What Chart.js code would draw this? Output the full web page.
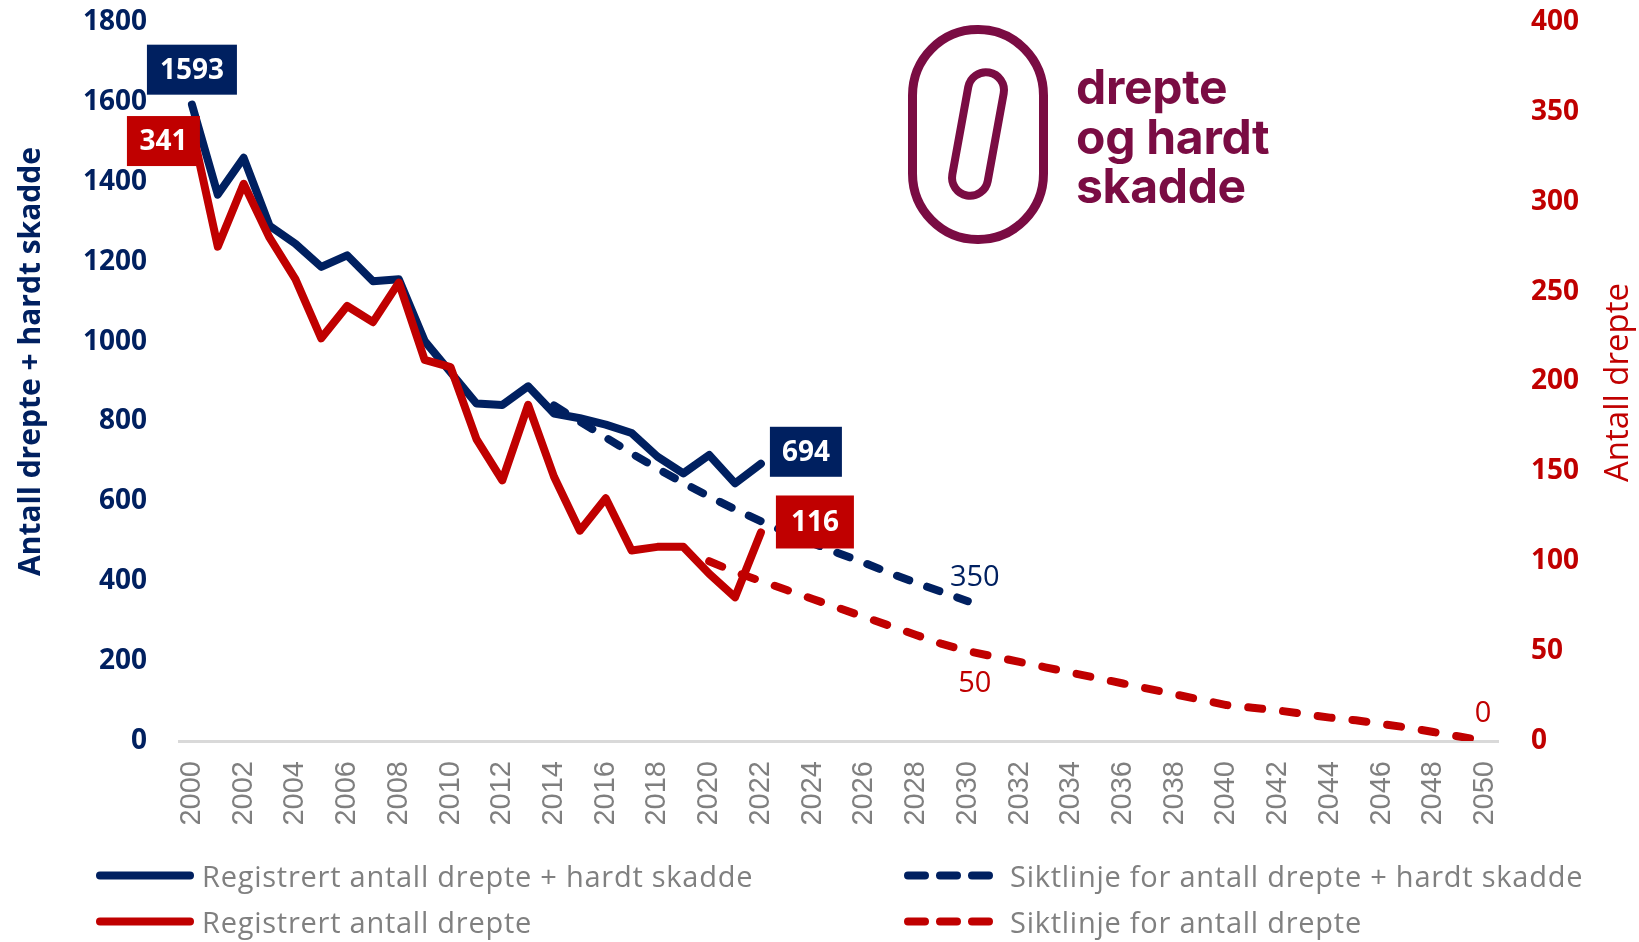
<!DOCTYPE html>
<html>
<head>
<meta charset="utf-8">
<script src="https://cdn.jsdelivr.net/npm/chart.js@4/dist/chart.umd.min.js"></script>
<style>
  html, body { margin: 0; padding: 0; background: #ffffff; }
  #wrap { position: relative; width: 1639px; height: 942px; overflow: hidden; background: #fff; }
  #chart { position: absolute; left: 0; top: 0; }
  #logo { position: absolute; left: 0; top: 0; pointer-events: none; }
  .logo-text { position: absolute; left: 1076px; top: 62px; font-family: Inter, "Open Sans", sans-serif; font-weight: 700;
               font-size: 48px; line-height: 49.5px; color: #7a0c43; letter-spacing: -0.3px; white-space: nowrap; }
  .leg { position: absolute; display: flex; align-items: center; transform: translateY(-50%); white-space: nowrap; }
  .leg span { font-family: "Open Sans", sans-serif; font-size: 29px; color: #808080; letter-spacing: 0.75px; }
  .leg svg { display: block; flex: none; }
</style>
</head>
<body>
<div id="wrap">
  <canvas id="chart" width="1639" height="942"></canvas>
  <svg id="logo" width="1639" height="942">
    <rect x="912.5" y="29.5" width="131" height="210" rx="65" ry="66" fill="none" stroke="#7a0c43" stroke-width="9"/>
    <g transform="translate(978,134) rotate(10.3)">
      <rect x="-18" y="-62.5" width="36" height="125" rx="18" ry="18" fill="none" stroke="#7a0c43" stroke-width="8"/>
    </g>
  </svg>
  <div class="logo-text">drepte<br>og hardt<br>skadde</div>
  <div id="legend"></div>
</div>
<script>
// ---------- Data ----------
const years = ['2000','2001','2002','2003','2004','2005','2006','2007','2008','2009','2010',
  '2011','2012','2013','2014','2015','2016','2017','2018','2019','2020',
  '2021','2022','2023','2024','2025','2026','2027','2028','2029','2030',
  '2031','2032','2033','2034','2035','2036','2037','2038','2039','2040',
  '2041','2042','2043','2044','2045','2046','2047','2048','2049','2050'];

// Registered killed + seriously injured (left axis)
const regKsiYears = ['2000','2001','2002','2003','2004','2005','2006','2007','2008','2009','2010','2011',
  '2012','2013','2014','2015','2016','2017','2018','2019','2020','2021','2022'];
const regKsi = [1593, 1368, 1460, 1290, 1245, 1187, 1216, 1151, 1156, 1001, 923, 845,
  841, 888, 820, 808, 792, 771, 712, 670, 716, 645, 694];

// Registered killed (right axis)
const regKilledYears = regKsiYears;
const regKilled = [341, 275, 310, 280, 257, 224, 242, 233, 255, 212, 208, 168,
  145, 187, 147, 117, 135, 106, 108, 108, 93, 80, 116];

// Target line killed + seriously injured (left axis)
const targetKsiYears = ['2014','2015','2016','2017','2018','2019','2020','2021','2022','2023',
  '2024','2025','2026','2027','2028','2029','2030'];
const targetKsi = [840, 800, 760, 720, 682, 646, 612, 580, 550, 522, 495, 470, 446, 420, 396, 373, 350];

// Target line killed (right axis)
const targetKilledYears = ['2020','2021','2022','2023','2024','2025','2026','2027','2028','2029','2030',
  '2031','2032','2033','2034','2035','2036','2037','2038','2039','2040',
  '2041','2042','2043','2044','2045','2046','2047','2048','2049','2050'];
const targetKilled = [100, 94, 89, 84, 79, 74, 69, 64, 59, 54, 50,
  47, 44, 41, 38, 35, 32, 29, 26, 23, 20,
  18.5, 17, 15, 13, 11.5, 9.5, 7.5, 5, 2.5, 0];

const seriesNames = [
  'Registrert antall drepte + hardt skadde',
  'Siktlinje for antall drepte + hardt skadde',
  'Registrert antall drepte',
  'Siktlinje for antall drepte'
];
const leftTicks = { min: 0, max: 1800, step: 200 };
const rightTicks = { min: 0, max: 400, step: 50 };
const leftTitle = 'Antall drepte + hardt skadde';
const rightTitle = 'Antall drepte';

// ---------- Styles ----------
const NAVY = '#002060';
const RED = '#C00000';
const GRAY = '#7F7F7F';

function pts(xs, ys) { return xs.map((x, i) => ({ x: x, y: ys[i] })); }

// Label annotations (text comes from the data value at the given point)
const labels = [
  { ds: 1, year: '2000', box: true, color: NAVY, dx: 0,    dy: -35,  w: 90, h: 50 },
  { ds: 0, year: '2000', box: true, color: RED,  dx: -28.5, dy: 13,  w: 73, h: 50 },
  { ds: 1, year: '2022', box: true, color: NAVY, dx: 45,   dy: -12,  w: 72, h: 50 },
  { ds: 0, year: '2022', box: true, color: RED,  dx: 54,   dy: -10.5, w: 78, h: 53 },
  { ds: 3, year: '2030', box: false, color: NAVY, dx: 7,   dy: -24 },
  { ds: 2, year: '2030', box: false, color: RED,  dx: 7,   dy: 32 },
  { ds: 2, year: '2050', box: false, color: RED,  dx: -2,  dy: -28 }
];

const labelPlugin = {
  id: 'labelPlugin',
  afterDatasetsDraw(chart) {
    const ctx = chart.ctx;
    ctx.save();
    labels.forEach(l => {
      const ds = chart.data.datasets[l.ds];
      const idx = ds.data.findIndex(p => p.x === l.year);
      const el = chart.getDatasetMeta(l.ds).data[idx];
      const cx = el.x + l.dx, cy = el.y + l.dy;
      const txt = String(ds.data[idx].y);
      ctx.textAlign = 'center';
      ctx.textBaseline = 'middle';
      if (l.box) {
        ctx.fillStyle = l.color;
        ctx.fillRect(cx - l.w / 2, cy - l.h / 2, l.w, l.h);
        ctx.fillStyle = '#ffffff';
        ctx.font = 'bold 28px "Open Sans"';
        ctx.fillText(txt, cx, cy + 1);
      } else {
        ctx.fillStyle = l.color;
        ctx.font = '29px "Open Sans"';
        ctx.fillText(txt, cx, cy + 1);
      }
    });
    ctx.restore();
  },
  afterDraw(chart) {
    const ctx = chart.ctx;
    const a = chart.chartArea;
    const mid = (a.top + a.bottom) / 2;
    ctx.save();
    ctx.textAlign = 'center';
    ctx.textBaseline = 'middle';
    ctx.translate(31, mid - 20);
    ctx.rotate(-Math.PI / 2);
    ctx.fillStyle = NAVY;
    ctx.font = 'bold 30px "Open Sans"';
    ctx.fillText(leftTitle, 0, 0);
    ctx.restore();
    ctx.save();
    ctx.textAlign = 'center';
    ctx.textBaseline = 'middle';
    ctx.translate(1619, mid + 1);
    ctx.rotate(-Math.PI / 2);
    ctx.fillStyle = RED;
    ctx.font = '33px "Open Sans"';
    ctx.fillText(rightTitle, 0, 0);
    ctx.restore();
  }
};

const chart = new Chart(document.getElementById('chart'), {
  type: 'line',
  data: {
    labels: years,
    datasets: [
      { label: seriesNames[2], data: pts(regKilledYears, regKilled), yAxisID: 'y1',
        borderColor: RED, borderWidth: 8, pointRadius: 0, borderJoinStyle: 'round', borderCapStyle: 'round' },
      { label: seriesNames[0], data: pts(regKsiYears, regKsi), yAxisID: 'y',
        borderColor: NAVY, borderWidth: 8, pointRadius: 0, borderJoinStyle: 'round', borderCapStyle: 'round' },
      { label: seriesNames[3], data: pts(targetKilledYears, targetKilled), yAxisID: 'y1',
        borderColor: RED, borderWidth: 8, pointRadius: 0, borderDash: [14, 21], borderCapStyle: 'round', borderJoinStyle: 'round' },
      { label: seriesNames[1], data: pts(targetKsiYears, targetKsi), yAxisID: 'y',
        borderColor: NAVY, borderWidth: 8, pointRadius: 0, borderDash: [13, 19], borderCapStyle: 'round', borderJoinStyle: 'round' }
    ]
  },
  options: {
    responsive: false,
    animation: false,
    layout: { padding: { top: 22, left: 0, right: 0, bottom: 0 } },
    plugins: { legend: { display: false }, tooltip: { enabled: false } },
    elements: { line: { tension: 0 } },
    scales: {
      x: {
        type: 'category', offset: true,
        grid: { display: false, drawTicks: false },
        border: { display: true, color: '#D9D9D9', width: 3 },
        ticks: {
          autoSkip: false, minRotation: 90, maxRotation: 90, padding: 20, color: GRAY,
          font: { family: '"Liberation Sans"', size: 29 },
          callback: function (v) { const y = this.getLabelForValue(v); return (Number(y) % 2 === 0) ? y : ''; }
        },
        afterFit(s) { s.height = 201; }
      },
      y: {
        position: 'left', min: leftTicks.min, max: leftTicks.max,
        grid: { display: false, drawTicks: true, tickLength: 32 }, border: { display: false },
        ticks: { stepSize: leftTicks.step, padding: 0, color: NAVY, font: { family: '"Open Sans"', weight: 'bold', size: 28 },
                 callback: v => String(v) },
        afterFit(s) { s.width = 179; }
      },
      y1: {
        position: 'right', min: rightTicks.min, max: rightTicks.max,
        grid: { display: false, drawTicks: true, tickLength: 33 }, border: { display: false },
        ticks: { stepSize: rightTicks.step, padding: 0, color: RED, font: { family: '"Open Sans"', weight: 'bold', size: 28 },
                 callback: v => String(v) },
        afterFit(s) { s.width = 141; }
      }
    }
  },
  plugins: [labelPlugin]
});

// ---------- Legend (HTML) ----------
const legendItems = [
  { name: seriesNames[0], color: NAVY, dashed: false, left: 96, top: 875 },
  { name: seriesNames[1], color: NAVY, dashed: true,  left: 904, top: 875 },
  { name: seriesNames[2], color: RED,  dashed: false, left: 96, top: 921 },
  { name: seriesNames[3], color: RED,  dashed: true,  left: 904, top: 921 }
];
const legendEl = document.getElementById('legend');
legendItems.forEach(it => {
  const d = document.createElement('div');
  d.className = 'leg';
  d.style.left = it.left + 'px';
  d.style.top = it.top + 'px';
  const w = it.dashed ? 89 : 98;
  const gap = it.dashed ? 17 : 8;
  const dash = it.dashed ? 'stroke-dasharray="17 15"' : '';
  d.innerHTML = '<svg width="' + w + '" height="10" style="margin-right:' + gap + 'px"><line x1="4" y1="5" x2="' + (w - 4) +
    '" y2="5" stroke="' + it.color + '" stroke-width="8" stroke-linecap="round" ' + dash + '/></svg><span>' + it.name + '</span>';
  legendEl.appendChild(d);
});
</script>
</body>
</html>
